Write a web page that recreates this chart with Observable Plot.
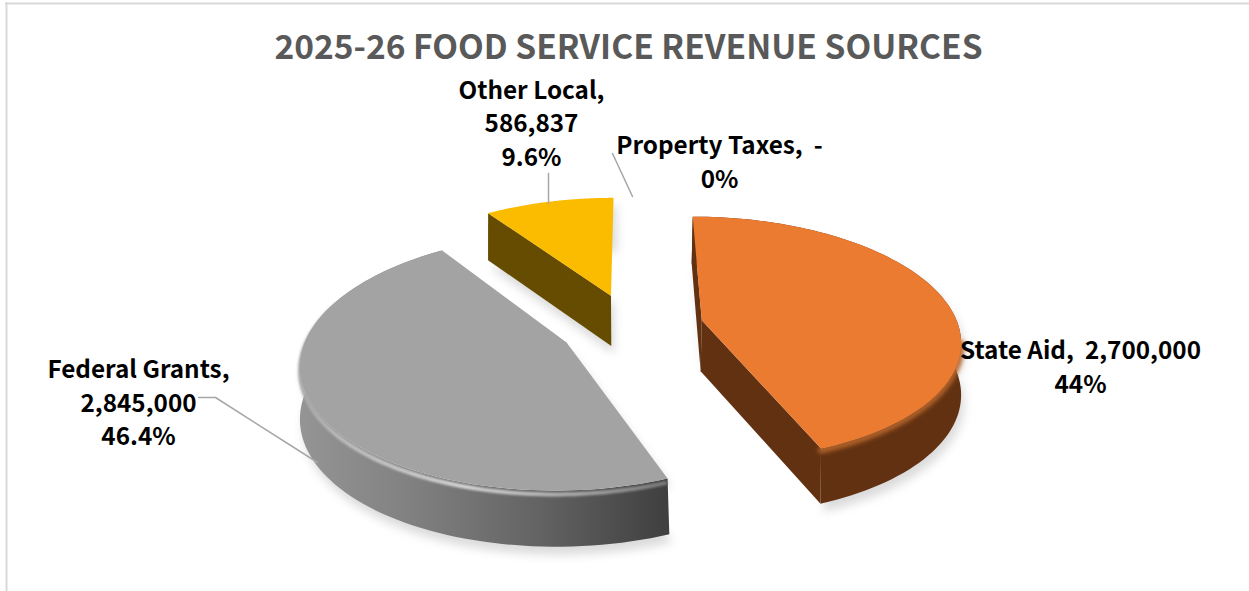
<!DOCTYPE html>
<html><head><meta charset="utf-8">
<script src="https://cdn.jsdelivr.net/npm/d3@7"></script>
<script src="https://cdn.jsdelivr.net/npm/@observablehq/plot@0.6"></script>
<style>html,body{margin:0;padding:0;background:#fff}svg{display:block}</style>
</head><body><div id="chart"></div>
<script>
// ---- data
const categories = ["Property Taxes", "State Aid", "Federal Grants", "Other Local"];
const revenue = [0, 2700000, 2845000, 586837];
const amountLabels = ["-", "2,700,000", "2,845,000", "586,837"];
const percentLabels = ["0%", "44%", "46.4%", "9.6%"];
const chartTitle = "2025-26 FOOD SERVICE REVENUE SOURCES";

// ---- styles and layout (separate from data)
const W = 1249, H = 591;
const centerX = 631, centerY = 326, radiusX = 262, radiusY = 122;
const explode = 0.275, perspective = 0.15;
const font = "'Noto Sans CJK SC','Noto Sans',sans-serif";
const ux = p => (p - centerX) / radiusX, uy = p => (p - centerY) / radiusY;

const total = d3.sum(revenue);
let acc = 0;
const slices = categories.map((name, i) => {
  const a0 = acc / total * 2 * Math.PI; acc += revenue[i];
  const a1 = acc / total * 2 * Math.PI, mid = (a0 + a1) / 2;
  return {name, a0, a1, cx: explode * Math.sin(mid), cy: -explode * Math.cos(mid)};
});
// t = 0: top plane; t = 1: bottom plane
function project(X, Y, t = 0) {
  const s = 1 / (1 - perspective * Y);
  return {x: X * s * (1 - 0.016 * t), y: Y * s + t * (51 + 3 * Y) / radiusY};
}
// the top face is slightly smaller than the side wall (bevel)
const rimPoint = (sl, a, t) => {
  const rx = 0.98 + 0.02 * t, ry = 0.99 + 0.01 * t;
  return project(sl.cx + rx * Math.sin(a), sl.cy - ry * Math.cos(a), t);
};
const arc = (sl, from, to, t = 0) => d3.range(0, 91).map(k => rimPoint(sl, from + (to - from) * k / 90, t));
const apex = (sl, t = 0) => project(sl.cx, sl.cy, t);
const face = sl => [apex(sl), ...arc(sl, sl.a0, sl.a1)];
const outerSide = sl => [...arc(sl, sl.a0, sl.a1), ...arc(sl, sl.a1, sl.a0, 1)];
const cut = (sl, a) => [apex(sl), rimPoint(sl, a, 0), rimPoint(sl, a, 1), apex(sl, 1)];
const footprint = sl => [...face(sl), ...arc(sl, sl.a1, sl.a0, 1), apex(sl, 1)];
const [, state, federal, other] = slices;
const deg = Math.PI / 180;

const poly = (pts, fill, extra = {}) => Plot.line(pts, {x: "x", y: "y", fill, stroke: "none", curve: "linear-closed", ...extra});
const withFilter = id => ({render(index, scales, values, dims, ctx, next) {
  const g = next(index, scales, values, dims, ctx);
  g.setAttribute("filter", `url(#${id})`);
  return g;
}});

function defs() {
  const d = d3.create("svg:defs");
  const grad = (id, stops) => {
    const g = d.append("linearGradient").attr("id", id).attr("gradientUnits", "userSpaceOnUse")
      .attr("x1", 298).attr("x2", 668).attr("y1", 0).attr("y2", 0);
    stops.forEach(([o, c]) => g.append("stop").attr("offset", o).attr("stop-color", c));
  };
  grad("graySide", [[0, "#959595"], [0.3, "#818181"], [0.65, "#636363"], [1, "#3f3f3f"]]);
  grad("grayRim", [[0, "#a8a8a8"], [0.12, "#bcbcbc"], [0.45, "#d4d4d4"], [0.8, "#a0a0a0"], [1, "#777"]]);
  [["soft", 5], ["rim", 1.1], ["rim2", 2]].forEach(([id, b]) =>
    d.append("filter").attr("id", id).attr("x", "-20%").attr("y", "-20%").attr("width", "140%").attr("height", "140%")
      .append("feGaussianBlur").attr("stdDeviation", b));
  return d.node();
}

const shift = pts => pts.map(p => ({x: p.x + 3 / radiusX, y: p.y + 8 / radiusY}));

const leaderLines = [
  [[198, 397], [215, 397], [317, 462]],
  [[548, 173], [548, 203]],
  [[612, 153], [632, 196]]
].map(l => l.map(([a, b]) => ({x: ux(a), y: uy(b)})));

const labels = [
  {text: `${categories[3]},\n${amountLabels[3]}\n${percentLabels[3]}`, px: 531, py: 121},
  {text: `${categories[0]},\u00a0\u00a0${amountLabels[0]}\n${percentLabels[0]}`, px: 719, py: 160},
  {text: `${categories[1]},\u00a0\u00a0${amountLabels[1]}\n${percentLabels[1]}`, px: 1080, py: 364.5},
  {text: `${categories[2]},\n${amountLabels[2]}\n${percentLabels[2]}`, px: 138, py: 400.5}
];

const chart = Plot.plot({
  width: W, height: H, margin: 0,
  x: {domain: [ux(0), ux(W)], range: [0, W], axis: null},
  y: {domain: [uy(0), uy(H)], range: [0, H], axis: null},
  marks: [
    defs,
    Plot.ruleX([ux(6)], {y1: uy(2), y2: uy(H), stroke: "#d9d9d9", strokeWidth: 2}),
    Plot.ruleY([uy(3)], {x1: ux(5), x2: ux(W), stroke: "#d9d9d9", strokeWidth: 2}),
    // soft shadows
    ...[federal, other, state].map(sl => poly(shift(footprint(sl)), "#000", {fillOpacity: 0.14, ...withFilter("soft")})),
    // other local
    poly(cut(other, other.a0), "#664c00"),
    poly(face(other), "#fbbc00"),
    // federal grants
    poly(outerSide(federal), "url(#graySide)"),
    Plot.line(arc(federal, 159 * deg, 290 * deg, 0.07), {x: "x", y: "y", stroke: "url(#grayRim)", strokeWidth: 4, ...withFilter("rim")}),
    poly(face(federal), "#a3a3a3"),
    // state aid
    poly(cut(state, state.a0), "#623112"),
    poly(cut(state, state.a1), "#623112"),
    poly(outerSide(state), "#623112"),
    Plot.line(arc(state, 100 * deg, state.a1, 0.03), {x: "x", y: "y", stroke: "#b5652a", strokeWidth: 6, ...withFilter("rim2")}),
    poly(face(state), "#ea7b30"),
    // leaders
    ...leaderLines.map(l => Plot.line(l, {x: "x", y: "y", stroke: "#a6a6a6", strokeWidth: 1.5})),
    // text
    Plot.text(labels, {x: d => ux(d.px), y: d => uy(d.py), text: "text", fontFamily: font, fontWeight: 700, fontSize: 24.3, lineHeight: 1.38, fill: "#000", textAnchor: "middle"}),
    Plot.text([chartTitle], {x: [ux(628)], y: [uy(48)], fontFamily: font, fontWeight: 700, fontSize: 33.5, fill: "#595959", textAnchor: "middle"})
  ]
});
document.getElementById("chart").append(chart);
</script></body></html>
